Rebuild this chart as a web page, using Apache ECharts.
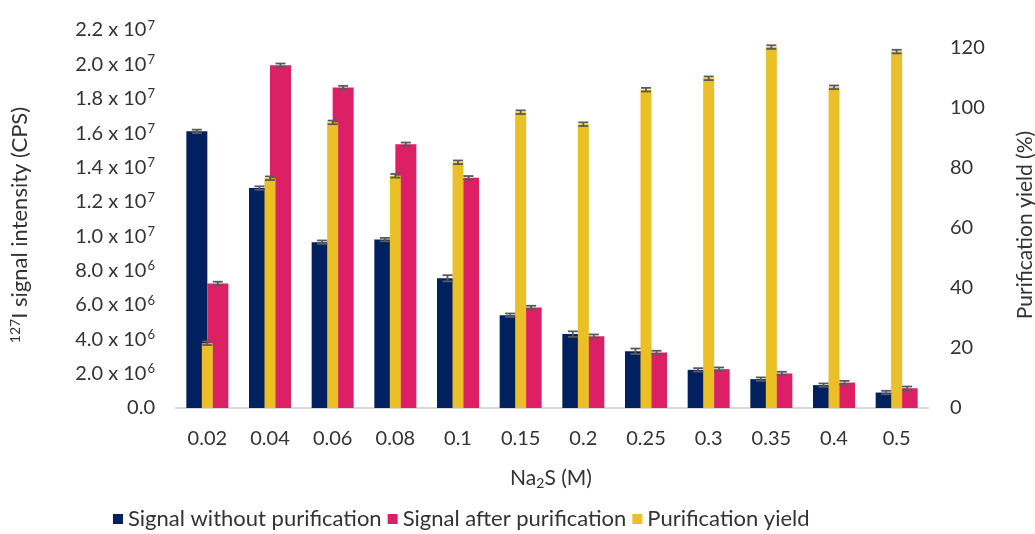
<!DOCTYPE html>
<html>
<head>
<meta charset="utf-8">
<script src="https://cdn.jsdelivr.net/npm/echarts@6/dist/echarts.min.js"></script>
<style>html,body{margin:0;padding:0;background:#fff}#c{width:1035px;height:534px}</style>
</head>
<body>
<div id="c"></div>
<script>
const categories = ['0.02','0.04','0.06','0.08','0.1','0.15','0.2','0.25','0.3','0.35','0.4','0.5'];
const signalWithout = [1.61e7, 1.28e7, 9.65e6, 9.8e6, 7.55e6, 5.4e6, 4.3e6, 3.3e6, 2.22e6, 1.68e6, 1.33e6, 0.9e6];
const signalWithoutErr = [1e5, 1e5, 1e5, 1e5, 1.8e5, 1e5, 1.6e5, 1.6e5, 1e5, 1e5, 1e5, 1e5];
const signalAfter = [7.25e6, 1.995e7, 1.865e7, 1.535e7, 1.34e7, 5.85e6, 4.18e6, 3.23e6, 2.26e6, 2.01e6, 1.48e6, 1.15e6];
const signalAfterErr = [1e5, 1e5, 1e5, 1e5, 1e5, 1e5, 1e5, 1e5, 1e5, 1e5, 1e5, 1e5];
const purificationYield = [21.6, 76.6, 95.2, 77.4, 81.9, 98.6, 94.6, 106.1, 109.9, 120.3, 106.9, 118.8];
const purificationYieldErr = [0.6, 0.6, 0.6, 0.6, 0.6, 0.6, 0.6, 0.6, 0.6, 0.6, 0.6, 0.6];
const leftTicks = ['0.0','2.0 x 10|6','4.0 x 10|6','6.0 x 10|6','8.0 x 10|6','1.0 x 10|7','1.2 x 10|7','1.4 x 10|7','1.6 x 10|7','1.8 x 10|7','2.0 x 10|7','2.2 x 10|7'];

const FONT = 'Lato';
const TXT = '#333';
const BLUE = '#00205F', PINK = '#DD1F66', YELLOW = '#EBBF26', ERR = '#5a5a5a';

function errSeries(values, errs, xAxisIndex, yAxisIndex, offset, capW) {
  return {
    type: 'custom', xAxisIndex, yAxisIndex, z: 10, silent: true,
    data: values.map((v, i) => [i, v, errs[i]]),
    renderItem: function (params, api) {
      const i = api.value(0), v = api.value(1), e = api.value(2);
      const hi = api.coord([i, v + e]), lo = api.coord([i, v - e]);
      const x = hi[0] + offset;
      const style = { stroke: ERR, lineWidth: 1.8 };
      return { type: 'group', children: [
        { type: 'line', shape: { x1: x, y1: hi[1], x2: x, y2: lo[1] }, style },
        { type: 'line', shape: { x1: x - capW/2, y1: hi[1], x2: x + capW/2, y2: hi[1] }, style },
        { type: 'line', shape: { x1: x - capW/2, y1: lo[1], x2: x + capW/2, y2: lo[1] }, style }
      ]};
    }
  };
}

const chart = echarts.init(document.getElementById('c'), null, { renderer: 'canvas' });
chart.setOption({
  animation: false,
  textStyle: { fontFamily: FONT },
  grid: { left: 176, right: 107, top: 30, bottom: 126 },
  legend: {
    data: ['Signal without purification', 'Signal after purification', 'Purification yield'],
    left: 108, top: 503, icon: 'rect', itemWidth: 10, itemHeight: 10, itemGap: 6,
    textStyle: { fontFamily: FONT, fontSize: 22, color: TXT }
  },
  xAxis: [
    { type: 'category', data: categories, gridIndex: 0,
      axisLine: { lineStyle: { color: '#d9d9d9', width: 2 } }, axisTick: { show: false },
      axisLabel: { fontSize: 20, color: TXT, margin: 21, fontFamily: FONT } },
    { type: 'category', data: categories, gridIndex: 0, show: false }
  ],
  yAxis: [
    { type: 'value', min: 0, max: 2.2e7, interval: 2e6, splitLine: { show: false },
      axisLine: { show: false }, axisTick: { show: false },
      axisLabel: { margin: 21, fontFamily: FONT,
        formatter: function (v) {
          const t = leftTicks[Math.round(v / 2e6)];
          if (!t) return '';
          const p = t.split('|');
          return p.length > 1 ? '{a|' + p[0] + '}{s|' + p[1] + '}' : '{a|' + p[0] + '}';
        },
        rich: { a: { fontSize: 20, color: TXT, fontFamily: FONT },
                s: { fontSize: 13, color: TXT, fontFamily: FONT, verticalAlign: 'top', padding: [0, 0, 9, 1] } } } },
    { type: 'value', min: 0, max: 126, interval: 20, splitLine: { show: false },
      axisLine: { show: false }, axisTick: { show: false },
      axisLabel: { margin: 22, fontSize: 20, color: TXT, fontFamily: FONT,
        formatter: v => (v % 20 === 0 ? String(v) : '') } }
  ],
  graphic: [
    { type: 'text', x: 20, y: 225, rotation: Math.PI / 2,
      style: { text: '{s|127}{a|I signal intensity (CPS)}', align: 'center', verticalAlign: 'middle',
        rich: { a: { fontSize: 22, fill: TXT, fontFamily: FONT }, s: { fontSize: 14, fill: TXT, fontFamily: FONT, verticalAlign: 'top', padding: [0, 0, 9, 0] } } } },
    { type: 'text', x: 1025, y: 225, rotation: Math.PI / 2,
      style: { text: 'Purification yield (%)', align: 'center', verticalAlign: 'middle', fontSize: 21, fill: TXT, fontFamily: FONT } },
    { type: 'text', x: 551, y: 478,
      style: { text: '{a|Na}{b|2}{a|S (M)}', align: 'center', verticalAlign: 'middle',
        rich: { a: { fontSize: 21, fill: TXT, fontFamily: FONT }, b: { fontSize: 14, fill: TXT, fontFamily: FONT, padding: [10, 0, 0, 0] } } } }
  ],
  series: [
    { name: 'Signal without purification', type: 'bar', data: signalWithout, xAxisIndex: 0, yAxisIndex: 0,
      barWidth: 21, barGap: '0%', itemStyle: { color: BLUE } },
    { name: 'Signal after purification', type: 'bar', data: signalAfter, xAxisIndex: 0, yAxisIndex: 0,
      barWidth: 21, barGap: '0%', itemStyle: { color: PINK } },
    { name: 'Purification yield', type: 'bar', data: purificationYield, xAxisIndex: 1, yAxisIndex: 1,
      barWidth: 11, z: 5, itemStyle: { color: YELLOW } },
    errSeries(signalWithout, signalWithoutErr, 0, 0, -10.5, 10),
    errSeries(signalAfter, signalAfterErr, 0, 0, 10.5, 10),
    errSeries(purificationYield, purificationYieldErr, 1, 1, 0, 10)
  ]
});
</script>
</body>
</html>
